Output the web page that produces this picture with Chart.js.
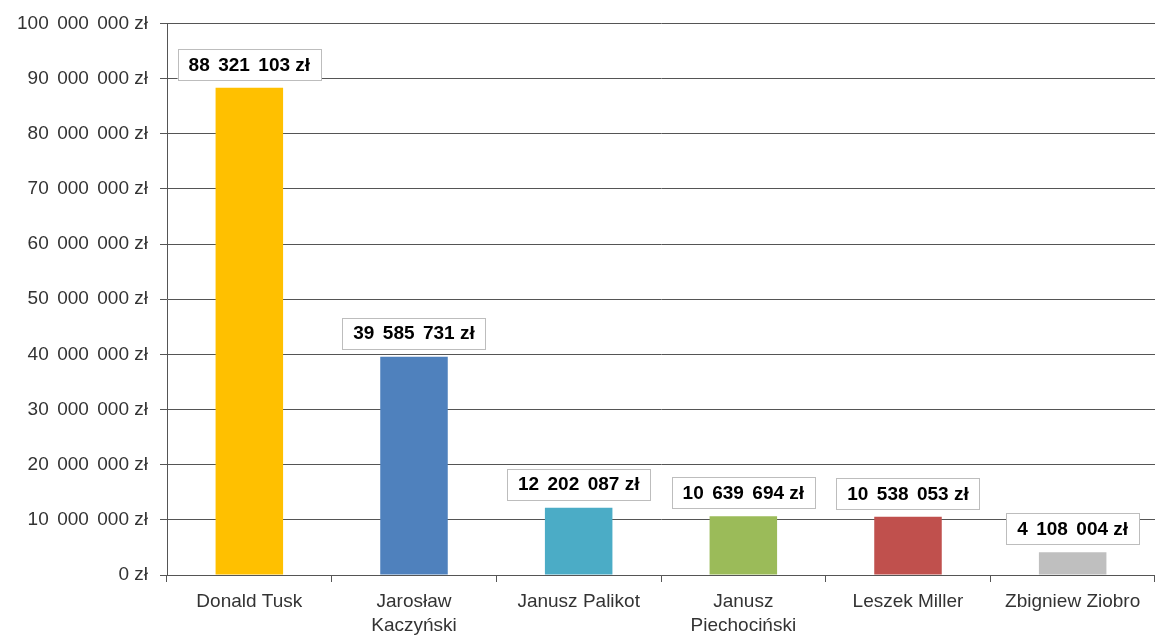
<!DOCTYPE html>
<html lang="pl">
<head>
  <meta charset="UTF-8">
  <title>Wykres</title>
  <script src="https://cdn.jsdelivr.net/npm/chart.js"></script>
  <style>
    html, body { margin: 0; padding: 0; background: #fff; }
    #chartContainer { width: 1155px; height: 635px; }
  </style>
</head>
<body>
<div id="chartContainer">
  <canvas id="subsidyChart"></canvas>
</div>

<script>
// data
const names = [
  'Donald Tusk',
  ['Jarosław', 'Kaczyński'],
  'Janusz Palikot',
  ['Janusz', 'Piechociński'],
  'Leszek Miller',
  'Zbigniew Ziobro'
];
const amounts = [88321103, 39585731, 12202087, 10639694, 10538053, 4108004];
const barColors = ['#FFC000', '#4F81BD', '#4BACC6', '#9BBB59', '#C0504D', '#BFBFBF'];

function zl(v) {
  // thousands grouped with slightly widened spaces, like the original
  return String(Math.round(v)).replace(/\B(?=(\d{3})+(?!\d))/g, ' \u2006') + ' zł';
}

// boxed value labels above the bars
const valueBoxes = {
  id: 'valueBoxes',
  afterDatasetsDraw(chart) {
    const ctx = chart.ctx;
    const meta = chart.getDatasetMeta(0);
    ctx.save();
    ctx.font = 'bold 19px "Liberation Sans", Arial, sans-serif';
    ctx.textAlign = 'center';
    ctx.textBaseline = 'middle';
    meta.data.forEach((bar, i) => {
      const txt = zl(amounts[i]);
      const w = ctx.measureText(txt).width + 22;
      const h = 31;
      const x = bar.x - w / 2;
      const y = bar.y - 8 - h;
      ctx.fillStyle = '#fff';
      ctx.fillRect(x, y, w, h);
      ctx.strokeStyle = '#BDBDBD';
      ctx.lineWidth = 1;
      ctx.strokeRect(Math.round(x) + 0.5, Math.round(y) + 0.5, Math.round(w), h);
      ctx.fillStyle = '#000';
      ctx.fillText(txt, bar.x, y + h / 2 + 1);
    });
    ctx.restore();
  }
};

const ctx = document.getElementById('subsidyChart').getContext('2d');
new Chart(ctx, {
  type: 'bar',
  data: {
    labels: names,
    datasets: [{
      data: amounts,
      backgroundColor: barColors,
      barPercentage: 0.5,
      categoryPercentage: 0.82
    }]
  },
  options: {
    responsive: true,
    maintainAspectRatio: false,
    animation: false,
    layout: { padding: { top: 19, right: 0, left: 0, bottom: 0 } },
    plugins: {
      legend: { display: false },
      tooltip: { enabled: false }
    },
    scales: {
      x: {
        offset: true,
        grid: {
          display: true,
          drawOnChartArea: false,
          offset: true,
          tickLength: 7,
          color: '#555'
        },
        border: { color: '#555', width: 1 },
        ticks: {
          color: '#333',
          padding: 7,
          maxRotation: 0,
          autoSkip: false,
          font: { family: '"Liberation Sans", Arial, sans-serif', size: 19, lineHeight: 1.3 }
        },
        afterFit(scale) { scale.height = 60; }
      },
      y: {
        min: 0,
        max: 100000000,
        grid: {
          color: '#555',
          tickLength: 7
        },
        border: { color: '#555', width: 1 },
        ticks: {
          stepSize: 10000000,
          color: '#333',
          padding: 12,
          font: { family: '"Liberation Sans", Arial, sans-serif', size: 19 },
          callback: v => zl(v)
        },
        afterFit(scale) { scale.width = 167; }
      }
    }
  },
  plugins: [valueBoxes]
});
</script>
</body>
</html>
